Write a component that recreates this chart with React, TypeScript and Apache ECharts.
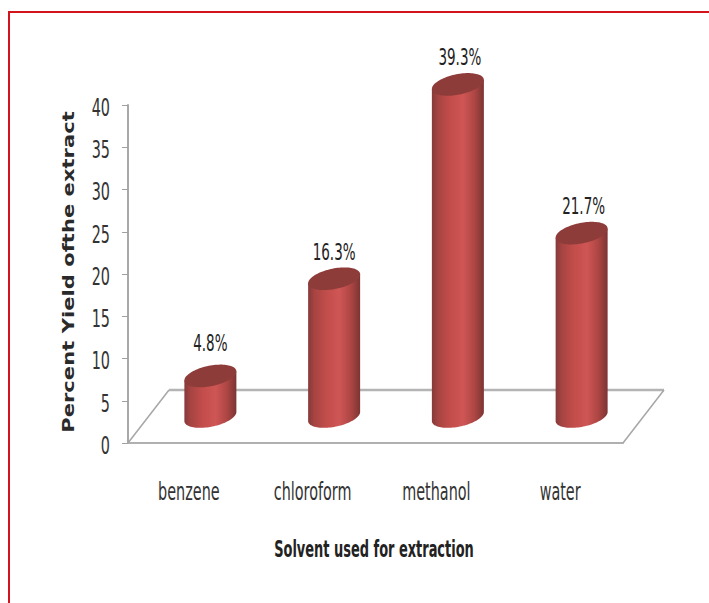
import React, { useEffect, useRef } from "react";
import * as echarts from "echarts";

// Percent yield of the extract per extraction solvent
const solvents = ["benzene", "chloroform", "methanol", "water"];
const yieldPercent = [4.8, 16.3, 39.3, 21.7];
const yieldLabels = ["4.8%", "16.3%", "39.3%", "21.7%"];
const tickValues = [0, 5, 10, 15, 20, 25, 30, 35, 40];
const xTitle = "Solvent used for extraction";
const yTitle = "Percent Yield ofthe extract";

// Oblique projection of the floor: offset from its front edge to its back edge
const DEPTH_X = 41;
const DEPTH_Y = -53;

// Cylinder footprint, a sheared ellipse
const RADIUS_X = 26;
const RADIUS_Y = 10.4;
const SHEAR = 4.5;

// The condensed lettering is tall for its width, so glyphs get a vertical stretch
const CONDENSED = "'DejaVu Sans Condensed', 'DejaVu Sans', sans-serif";
const STRETCH = 1.55;
const labelLift = [33, 26, 27.5, 27];

const sideFill = new echarts.graphic.LinearGradient(0, 0, 1, 0, [
  { offset: 0, color: "#86393a" },
  { offset: 0.12, color: "#a64442" },
  { offset: 0.35, color: "#c24d4b" },
  { offset: 0.6, color: "#cf5654" },
  { offset: 0.82, color: "#ad4644" },
  { offset: 1, color: "#7c3433" },
]);

function ellipsePoint(cx: number, cy: number, t: number): number[] {
  return [
    cx + RADIUS_X * Math.cos(t),
    cy - SHEAR * Math.cos(t) + RADIUS_Y * Math.sin(t),
  ];
}

function stretchedText(text: string, x: number, y: number, align: string, size: number, fill: string) {
  return {
    type: "text",
    x,
    y,
    scaleY: STRETCH,
    style: {
      text,
      font: `${size}px ${CONDENSED}`,
      fill,
      align,
      verticalAlign: "middle",
    },
  };
}

function renderFloor(params: any) {
  const { x, y, width, height } = params.coordSys;
  const y0 = y + height;
  const edge = { stroke: "#a6a6a6", lineWidth: 1.5 };
  return {
    type: "group",
    children: [
      {
        type: "line",
        shape: { x1: x, y1: y0, x2: x + DEPTH_X, y2: y0 + DEPTH_Y },
        style: edge,
      },
      {
        type: "line",
        shape: {
          x1: x + DEPTH_X,
          y1: y0 + DEPTH_Y,
          x2: x + width + DEPTH_X,
          y2: y0 + DEPTH_Y,
        },
        style: { stroke: "#b4b4b4", lineWidth: 2.5 },
      },
      {
        type: "line",
        shape: {
          x1: x + width,
          y1: y0,
          x2: x + width + DEPTH_X,
          y2: y0 + DEPTH_Y,
        },
        style: edge,
      },
    ],
  };
}

function renderCylinder(params: any, api: any) {
  const index = api.value(0);
  const value = api.value(1);
  const foot = api.coord([index, 0]);
  const head = api.coord([index, value]);
  const cx = foot[0] + DEPTH_X / 2;
  const baseY = foot[1] + DEPTH_Y / 2;
  const topY = head[1] + DEPTH_Y / 2;

  const STEPS = 48;
  const side: number[][] = [ellipsePoint(cx, topY, Math.PI)];
  for (let i = 0; i <= STEPS; i++) {
    side.push(ellipsePoint(cx, baseY, Math.PI - (Math.PI * i) / STEPS));
  }
  side.push(ellipsePoint(cx, topY, 0));

  const cap: number[][] = [];
  for (let i = 0; i < STEPS * 2; i++) {
    cap.push(ellipsePoint(cx, topY, (Math.PI * i) / STEPS));
  }

  return {
    type: "group",
    children: [
      { type: "polygon", shape: { points: side }, style: { fill: sideFill } },
      { type: "polygon", shape: { points: cap }, style: { fill: "#8e3c3a" } },
      stretchedText(
        yieldLabels[index],
        cx + (index >= 2 ? 2 : 0),
        topY - labelLift[index],
        "center",
        15,
        "#222222",
      ),
    ],
  };
}

// Tick labels placed from the axis scales
function renderValueTick(params: any, api: any) {
  const y = api.coord([0, api.value(1)])[1];
  return stretchedText(String(api.value(1)), params.coordSys.x - 18, y + 2.5, "right", 16, "#333333");
}

function renderCategoryTick(params: any, api: any) {
  const index = api.value(0);
  const x = api.coord([index, 0])[0];
  return stretchedText(solvents[index], x - 1, params.coordSys.y + params.coordSys.height + 49, "center", 16, "#333333");
}

export default function App() {
  const ref = useRef<HTMLDivElement>(null);

  useEffect(() => {
    document.body.style.margin = "0";
    const chart = echarts.init(ref.current!, undefined, { renderer: "svg" });
    chart.setOption({
      animation: false,
      backgroundColor: "#ffffff",
      graphic: [
        {
          type: "polyline",
          shape: { points: [[709, 12], [9, 12], [9, 603]] },
          style: { stroke: "#d3141c", lineWidth: 2, fill: "none" },
          silent: true,
        },
        {
          type: "text",
          x: 374,
          y: 549,
          scaleY: 1.6,
          style: {
            text: xTitle,
            font: `bold 14.4px ${CONDENSED}`,
            fill: "#222222",
            align: "center",
            verticalAlign: "middle",
          },
          silent: true,
        },
        {
          type: "text",
          x: 68,
          y: 272,
          rotation: Math.PI / 2,
          scaleX: 1.32,
          style: {
            text: yTitle,
            font: "bold 16px 'DejaVu Sans', sans-serif",
            fill: "#2a2a2a",
            align: "center",
            verticalAlign: "middle",
          },
          silent: true,
        },
      ],
      grid: { left: 128, top: 105, width: 495, height: 338 },
      xAxis: {
        type: "category",
        data: solvents,
        axisLine: { lineStyle: { color: "#b0b0b0", width: 2 } },
        axisTick: { interval: 0, length: 11, lineStyle: { color: "#808080", width: 1 } },
        axisLabel: { show: false },
      },
      yAxis: {
        type: "value",
        min: 0,
        max: 40,
        interval: 5,
        splitLine: { show: false },
        axisLine: { show: true, lineStyle: { color: "#a8a8a8", width: 2 } },
        axisTick: { show: true, length: 6, lineStyle: { color: "#a0a0a0" } },
        axisLabel: { show: false },
      },
      series: [
        { type: "custom", renderItem: renderFloor, data: [0], z: 1, silent: true },
        {
          type: "custom",
          renderItem: renderCylinder,
          data: yieldPercent.map((v, i) => [i, v]),
          encode: { x: 0, y: 1 },
          z: 3,
          silent: true,
        },
        {
          type: "custom",
          renderItem: renderValueTick,
          data: tickValues.map((v) => [0, v]),
          encode: { x: 0, y: 1 },
          z: 4,
          silent: true,
        },
        {
          type: "custom",
          renderItem: renderCategoryTick,
          data: solvents.map((_, i) => [i, 0]),
          encode: { x: 0, y: 1 },
          z: 4,
          silent: true,
        },
      ],
    });
    return () => chart.dispose();
  }, []);

  return (
    <div
      ref={ref}
      style={{ position: "absolute", left: 0, top: 0, width: 709, height: 603 }}
    />
  );
}
